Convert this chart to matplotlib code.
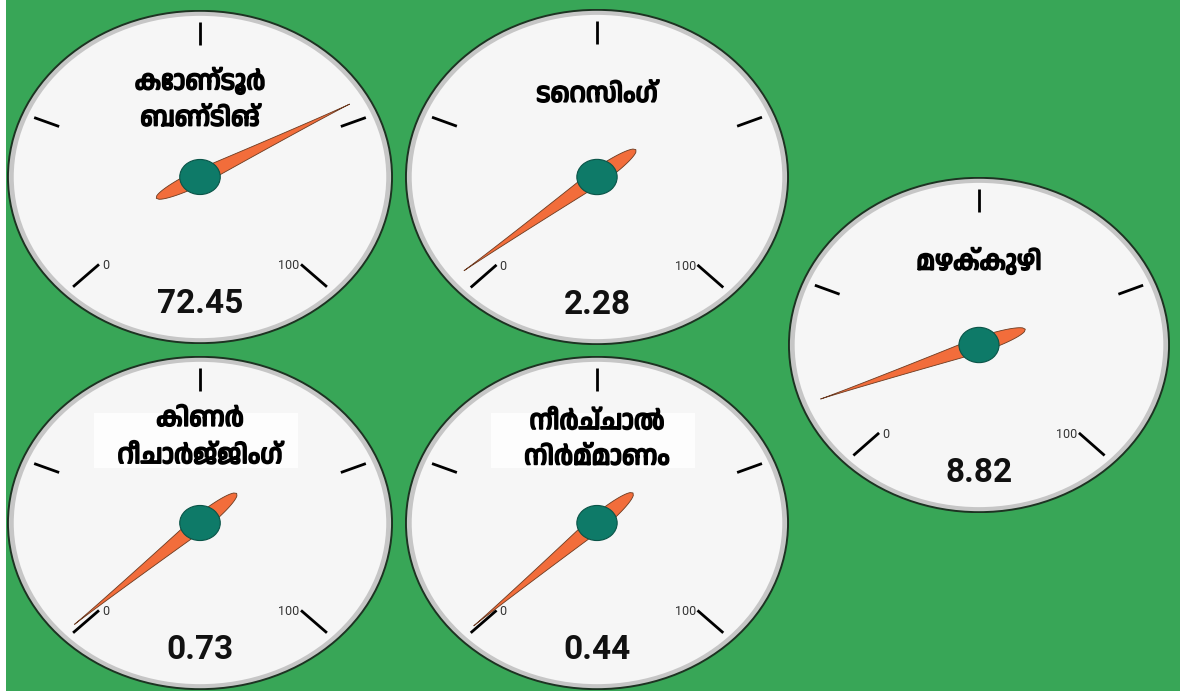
import numpy as np
import matplotlib
matplotlib.use("Agg")
import matplotlib.pyplot as plt
import matplotlib.patheffects as pe
from matplotlib import font_manager
from matplotlib.patches import Circle, Polygon, Rectangle

# gauge data
titles = ["കോണ്ടൂർ\nബണ്ടിങ്", "ടെറസിംഗ്", "മഴക്കുഴി",
          "കിണർ\nറീചാർജ്ജിംഗ്", "നീർച്ചാൽ\nനിർമ്മാണം"]
values = [72.45, 2.28, 8.82, 0.73, 0.44]
vmin, vmax = 0, 100
# which titles sit on a white label box
title_boxes = [False, False, False, True, True]
title_y = [0.47, 0.49, 0.5, 0.51, 0.5]

# gauge centre and radii in pixels (x, y, rx, ry)
W, H = 1180, 691
centres = [(200, 177, 193, 167), (597, 177, 192, 168), (979, 345, 191, 168),
           (200, 523, 193, 167), (597, 523, 192, 167)]

green = "#38a657"
face = "#f6f6f6"
ring = "#c6c6c6"
needle_col = "#f26d3b"
hub_col = "#0e7a68"

ml = [f.name for f in font_manager.fontManager.ttflist if "Malayalam" in f.name]
title_font = ml[:1] + ["Noto Sans", "DejaVu Sans"]
heavy = [pe.withStroke(linewidth=1.3, foreground="black")]


def angle(v):
    # 0 sits lower left, 100 lower right, 270 degree sweep
    return np.radians(225 - 270 * (v - vmin) / (vmax - vmin))


def needle(ax, v):
    a = angle(v)
    s = np.linspace(-0.26, 0.89, 120)
    w = np.where(s < 0, 0.045 * np.sqrt(np.clip(1 - (s / 0.26) ** 2, 0, 1)),
                 0.045 * (1 - s / 0.89) ** 1.2)
    ux, uy = np.cos(a), np.sin(a)
    px, py = -uy, ux
    left = np.column_stack([s * ux + w * px, s * uy + w * py])
    right = np.column_stack([s * ux - w * px, s * uy - w * py])[::-1]
    ax.add_patch(Polygon(np.vstack([left, right]), closed=True,
                         facecolor=needle_col, edgecolor="#6b3a20", lw=0.6, zorder=5))


fig = plt.figure(figsize=(W / 100, H / 100), dpi=100)
fig.patch.set_facecolor(green)
fig.patches.append(Rectangle((0, 0), 6 / W, 1, transform=fig.transFigure,
                             facecolor="white", edgecolor="none"))

for title, ty, val, box, (cx, cy, rx, ry) in zip(titles, title_y, values, title_boxes, centres):
    ax = fig.add_axes([(cx - rx) / W, 1 - (cy + ry) / H, 2 * rx / W, 2 * ry / H])
    ax.set_xlim(-1, 1)
    ax.set_ylim(-1, 1)
    ax.axis("off")

    ax.add_patch(Circle((0, 0), 0.995, facecolor=ring, edgecolor="#1d3322", lw=1.4))
    ax.add_patch(Circle((0, 0), 0.965, facecolor=face, edgecolor="none"))

    # tick marks
    for i, t in enumerate(np.linspace(vmin, vmax, 5)):
        a = angle(t)
        r0 = 0.74 if i in (0, 4) else 0.79
        ax.plot([r0 * np.cos(a), 0.93 * np.cos(a)], [r0 * np.sin(a), 0.93 * np.sin(a)],
                color="black", lw=2.0, solid_capstyle="butt")
    ax.text(-0.49, -0.53, str(vmin), fontsize=9, color="#333333", family="Roboto",
            ha="center", va="center")
    ax.text(0.46, -0.53, str(vmax), fontsize=9, color="#333333", family="Roboto",
            ha="center", va="center")

    if box:
        ax.add_patch(Rectangle((-0.55, 0.33), 1.06, 0.33, facecolor="#fdfdfd",
                               edgecolor="none", zorder=2))
    ax.text(0, ty, title, fontsize=19, fontweight="bold", family=title_font,
            ha="center", va="center", linespacing=1.75, zorder=3, path_effects=heavy)

    needle(ax, val)
    ax.add_patch(Circle((0, 0), 0.105, facecolor=hub_col, edgecolor="#0a5448",
                        lw=0.8, zorder=6))

    ax.text(0, -0.76, f"{val:.2f}", fontsize=24, fontweight="bold", family="Roboto",
            ha="center", va="center", color="#111111")

fig.savefig("out.png", dpi=100, facecolor=fig.get_facecolor())
